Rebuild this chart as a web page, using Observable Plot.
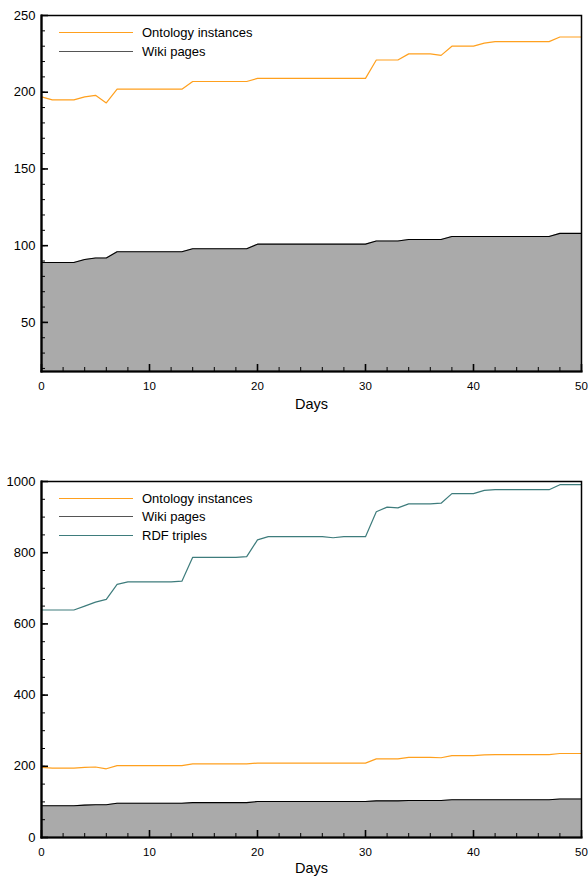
<!DOCTYPE html>
<html><head><meta charset="utf-8">
<script src="https://cdn.jsdelivr.net/npm/d3@7"></script>
<script src="https://cdn.jsdelivr.net/npm/@observablehq/plot@0.6"></script>
<style>
body{margin:0;background:#fff;font-family:"Liberation Sans",Arial,Helvetica,sans-serif;}
#wrap{position:relative;width:588px;height:877px;overflow:hidden;}
.chart{position:absolute;left:0;}
.legend{position:absolute;font-size:13px;color:#000;font-family:"Liberation Sans",Arial,sans-serif;}
.row{display:flex;align-items:center;height:18.6px;}
.sw{width:74px;height:0;border-top:1px solid;margin-right:9px;}
</style></head><body><div id="wrap"></div>
<script>
const days = [0,1,2,3,4,5,6,7,8,9,10,11,12,13,14,15,16,17,18,19,20,21,22,23,24,25,26,27,28,29,30,31,32,33,34,35,36,37,38,39,40,41,42,43,44,45,46,47,48,49,50];
const ontology = [197,195,195,195,197,198,193,202,202,202,202,202,202,202,207,207,207,207,207,207,209,209,209,209,209,209,209,209,209,209,209,221,221,221,225,225,225,224,230,230,230,232,233,233,233,233,233,233,236,236,236];
const wiki = [89,89,89,89,91,92,92,96,96,96,96,96,96,96,98,98,98,98,98,98,101,101,101,101,101,101,101,101,101,101,101,103,103,103,104,104,104,104,106,106,106,106,106,106,106,106,106,106,108,108,108];
const rdf = [639,639,639,639,650,661,669,711,718,718,718,718,718,720,787,787,787,787,787,789,836,845,845,845,845,845,845,842,845,845,845,915,928,926,937,937,937,939,966,966,966,975,977,977,977,977,977,977,991,991,991];
const xTicks = [0,10,20,30,40,50];
const xMinor = [0,2,4,6,8,10,12,14,16,18,20,22,24,26,28,30,32,34,36,38,40,42,44,46,48,50];
const yTicksTop = [50,100,150,200,250];
const yMinorTop = [20,30,40,50,60,70,80,90,100,110,120,130,140,150,160,170,180,190,200,210,220,230,240,250];
const yTicksBottom = [0,200,400,600,800,1000];
const yMinorBottom = [0,50,100,150,200,250,300,350,400,450,500,550,600,650,700,750,800,850,900,950,1000];
const seriesNames = ["Ontology instances","Wiki pages","RDF triples"];
const lineColors = ["#ffa01e","#000000","#3e7c7c"];
const legendColors = ["#ffa01e","#555555","#3e7c7c"];
const areaFill = "#aaaaaa";
const xLabel = "Days";

const rows = days.map((d,i)=>({day:d, ontology:ontology[i], wiki:wiki[i], rdf:rdf[i]}));

function makeChart({height, marginTop, marginBottom, yDomain, yMajor, yMinor, withRdf, labelDy}) {
  const marks = [
    Plot.areaY(rows, {x:"day", y:"wiki", fill:areaFill, clip:true}),
    Plot.lineY(rows, {x:"day", y:"wiki", stroke:lineColors[1], strokeWidth:1.1, clip:true}),
    Plot.lineY(rows, {x:"day", y:"ontology", stroke:lineColors[0], strokeWidth:1.2, clip:true})
  ];
  if (withRdf) marks.push(Plot.lineY(rows, {x:"day", y:"rdf", stroke:lineColors[2], strokeWidth:1.2, clip:true}));
  marks.push(
    Plot.axisX(xMinor, {tickSize:-4, tickFormat:()=>"", label:null, strokeWidth:1}),
    Plot.axisX(xTicks, {tickSize:-7, tickPadding:17, fontSize:11.5, label:null, strokeWidth:1.6, tickFormat:d=>String(d)}),
    Plot.axisY(yMinor, {tickSize:-4, tickFormat:()=>"", label:null, strokeWidth:1}),
    Plot.axisY(yMajor, {tickSize:-7, tickPadding:13, fontSize:13, label:null, strokeWidth:1.6, tickFormat:d=>String(d)}),
    Plot.frame({strokeWidth:1.5}),
    Plot.frame({anchor:"left", strokeWidth:2.2}),
    Plot.frame({anchor:"bottom", strokeWidth:2.2}),
    Plot.text([xLabel], {frameAnchor:"bottom", dy:labelDy, fontSize:14.5, lineAnchor:"middle"})
  );
  return Plot.plot({
    width:588, height, marginLeft:41, marginRight:7, marginTop, marginBottom,
    style:{fontFamily:'"Liberation Sans",Arial,sans-serif', background:"white", color:"black", overflow:"visible"},
    x:{domain:[0,50]},
    y:{domain:yDomain},
    marks
  });
}

function makeLegend(n, top) {
  const div = document.createElement("div");
  div.className = "legend";
  div.style.left = "59px";
  div.style.top = top + "px";
  for (let i = 0; i < n; i++) {
    const r = document.createElement("div");
    r.className = "row";
    const s = document.createElement("span");
    s.className = "sw";
    s.style.borderTopColor = legendColors[i];
    const t = document.createElement("span");
    t.textContent = seriesNames[i];
    r.append(s, t);
    div.append(r);
  }
  return div;
}

const wrap = document.getElementById("wrap");
const c1 = makeChart({height:440, marginTop:15, marginBottom:69, yDomain:[18,250], yMajor:yTicksTop, yMinor:yMinorTop, withRdf:false, labelDy:33});
c1.classList.add("chart"); c1.style.top = "0px";
const c2 = makeChart({height:437, marginTop:41, marginBottom:40, yDomain:[0,1000], yMajor:yTicksBottom, yMinor:yMinorBottom, withRdf:true, labelDy:31});
c2.classList.add("chart"); c2.style.top = "440px";
wrap.append(c1, c2, makeLegend(2, 23.5), makeLegend(3, 489));
</script></body></html>
